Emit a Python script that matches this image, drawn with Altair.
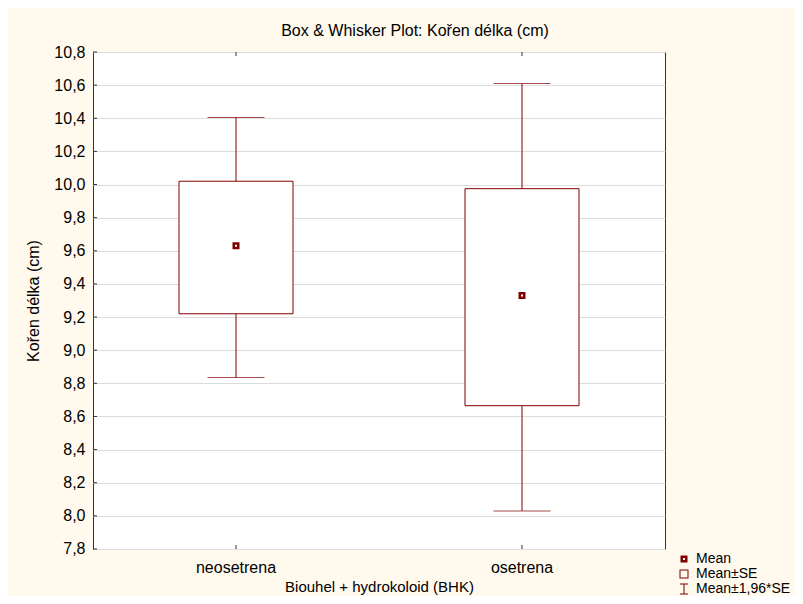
import altair as alt
import pandas as pd

categories = ["neosetrena", "osetrena"]
means = [9.63, 9.33]
se_low = [9.22, 8.665]
se_high = [10.02, 9.975]
ci_low = [8.835, 8.03]
ci_high = [10.405, 10.61]
y_ticks = [7.8, 8.0, 8.2, 8.4, 8.6, 8.8, 9.0, 9.2, 9.4, 9.6, 9.8, 10.0, 10.2, 10.4, 10.6, 10.8]
legend_labels = ["Mean", "Mean±SE", "Mean±1,96*SE"]

FONT = "Liberation Sans"
RED = "#800000"

df = pd.DataFrame({
    "cat": categories, "mean": means, "se_low": se_low, "se_high": se_high,
    "ci_low": ci_low, "ci_high": ci_high, "stat": ["Mean"] * len(categories),
})
tick_df = pd.DataFrame({"v": y_ticks})
cat_df = pd.DataFrame({"cat": categories})

xscale = alt.Scale(domain=categories, paddingInner=0, paddingOuter=0)
yscale = alt.Scale(domain=[7.79999, 10.80001], nice=False, zero=False)

x_axis = alt.Axis(labelAngle=0, tickSize=0, domain=False, grid=False,
                  labelFontSize=16, labelFont=FONT, labelColor="black",
                  labelPadding=10, titleFontSize=15, titleFont=FONT,
                  titleFontWeight="normal", titleColor="black", titlePadding=4)
y_axis = alt.Axis(values=y_ticks, tickSize=0, domain=False, grid=True,
                  gridColor="#dcdcdc", gridWidth=1,
                  labelOverlap=False, labelFlush=False, labelBound=False,
                  labelExpr="replace(format(datum.value, '.1f'), '.', ',')",
                  labelFontSize=16, labelFont=FONT, labelColor="black",
                  labelPadding=8, titleFontSize=16, titleFont=FONT,
                  titleFontWeight="normal", titleColor="black", titlePadding=12)


def X():
    return alt.X("cat:N", scale=xscale, title="Biouhel + hydrokoloid (BHK)", axis=x_axis)


def Y(field):
    return alt.Y(field, scale=yscale, title="Kořen délka (cm)", axis=y_axis)


base = alt.Chart(df)

lower = base.mark_rule(color=RED, strokeWidth=1).encode(x=X(), y=Y("ci_low:Q"), y2="se_low:Q")
upper = base.mark_rule(color=RED, strokeWidth=1).encode(x=X(), y=Y("se_high:Q"), y2="ci_high:Q")
cap_lo = base.mark_tick(color=RED, size=57, thickness=1).encode(x=X(), y=Y("ci_low:Q"))
cap_hi = base.mark_tick(color=RED, size=57, thickness=1).encode(x=X(), y=Y("ci_high:Q"))
box = base.mark_bar(size=114, fill="white", stroke=RED, strokeWidth=1).encode(
    x=X(), y=Y("se_low:Q"), y2="se_high:Q")

# filled-only symbol outlines (holes via reversed winding)
mean_path = "M-0.7,-0.7H0.7V0.7H-0.7Z M-0.2,-0.2V0.2H0.2V-0.2Z"
sq_path = "M-0.9,-0.9H0.9V0.9H-0.9Z M-0.7,-0.7V0.7H0.7V-0.7Z"
ibeam_path = ("M-0.8,-1.1H0.8V-0.9H0.1V0.9H0.8V1.1H-0.8V0.9H-0.1V-0.9H-0.8Z")

legend = alt.Legend(title=None, orient="none", legendX=584, legendY=500,
                    labelFontSize=14, labelFont=FONT, labelColor="black",
                    symbolFillColor=RED, symbolStrokeWidth=0, symbolSize=100,
                    symbolOpacity=1, rowPadding=1, labelOffset=5, padding=0)
mean_pt = base.mark_point(filled=True, size=100, color=RED, strokeWidth=0, opacity=1).encode(
    x=X(), y=Y("mean:Q"),
    shape=alt.Shape("stat:N", scale=alt.Scale(domain=legend_labels,
                                              range=[mean_path, sq_path, ibeam_path]),
                    legend=legend),
)

yticks = alt.Chart(tick_df).mark_rule(color="#333", strokeWidth=1).encode(
    y=Y("v:Q"), x=alt.value(0), x2=alt.value(4))
xticks_b = alt.Chart(cat_df).mark_rule(color="#333", strokeWidth=1).encode(
    x=X(), y=alt.value(497), y2=alt.value(493))
xticks_t = alt.Chart(cat_df).mark_rule(color="#333", strokeWidth=1).encode(
    x=X(), y=alt.value(0), y2=alt.value(4))

chart = alt.layer(lower, upper, cap_lo, cap_hi, box, yticks, xticks_b, xticks_t, mean_pt).properties(
    width=572, height=497,
    autosize=alt.AutoSizeParams(type="none"),
    padding={"left": 85, "top": 44, "right": 130, "bottom": 47},
    background="#FFF9EE",
    title=alt.TitleParams("Box & Whisker Plot: Kořen délka (cm)", fontSize=16, font=FONT,
                          fontWeight="normal", color="black", dx=36, offset=5),
).configure_view(fill="white", stroke="#333", strokeWidth=1)

chart.save("out.html", embed_options={"renderer": "svg", "actions": False})
